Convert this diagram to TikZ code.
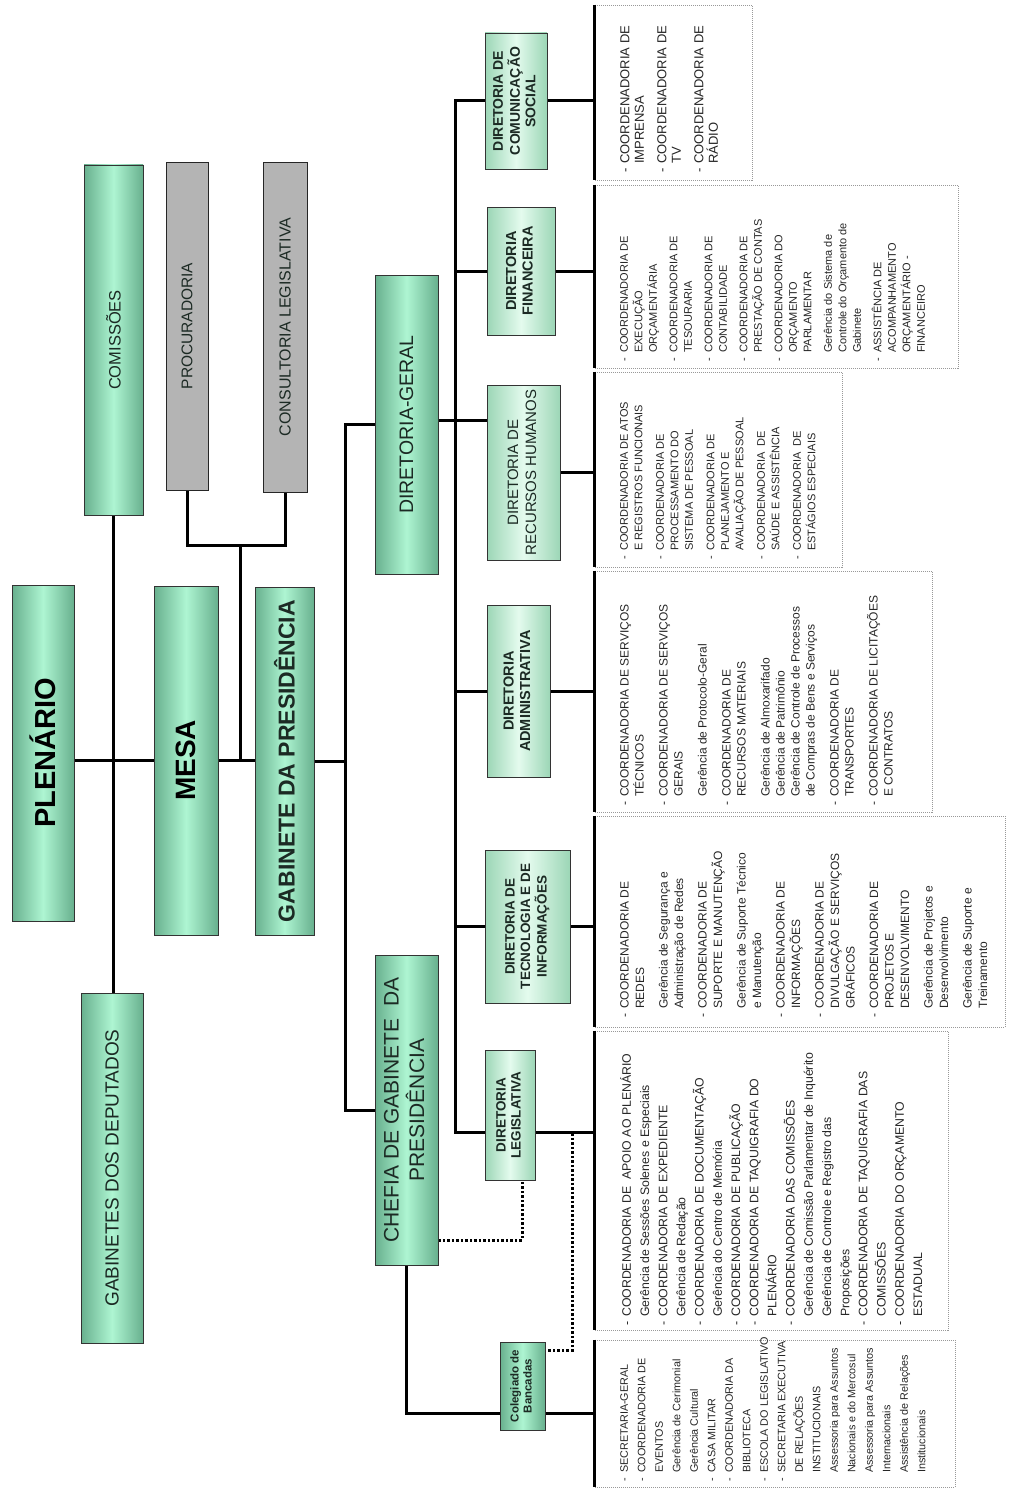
\documentclass[tikz,border=0pt]{standalone}
\usepackage{fontspec}
\setmainfont{Liberation Sans}
\usepackage{graphicx}
\definecolor{gedge}{HTML}{68B08E}
\definecolor{gmid}{HTML}{AEF5D2}
\definecolor{dedge}{HTML}{9CD6B6}
\definecolor{dmid}{HTML}{E4FBEE}
\definecolor{boxgray}{HTML}{B4B4B4}
\definecolor{labcol}{HTML}{1C2A24}
\newcommand\Lb[1]{\makebox[9pt][l]{-}#1}
\newcommand\Ls[1]{\hspace*{9pt}#1}
\newcommand\rotlab[1]{\rotatebox{90}{\begin{tabular}{@{}c@{}}#1\end{tabular}}}
\pgfdeclarelayer{background}
\pgfsetlayers{background,main}
\begin{document}
\begin{tikzpicture}[x=1pt,y=-1pt,
  mainbox/.style={draw=black!80, line width=0.9pt, left color=gedge, right color=gedge, middle color=gmid, inner sep=0pt, text=labcol},
  dirbox/.style={draw=black!80, line width=0.9pt, left color=dedge, right color=dedge, middle color=dmid, inner sep=0pt, text=labcol},
  graybox/.style={draw=black!85, line width=0.9pt, fill=boxgray, inner sep=0pt, text=labcol},
  conn/.style={line width=3pt, draw=black},
  dotconn/.style={line width=3pt, draw=black, dash pattern=on 2.5pt off 2pt},
  listbox/.style={draw=black!40, line width=0.8pt, dash pattern=on 1pt off 1pt, inner sep=0pt},
  listedge/.style={line width=3.6pt, draw=black},
  listtext/.style={rotate=90, anchor=north west, align=left, inner sep=0pt, text=black!85}]
\useasboundingbox (0,0) rectangle (1019,1490);

% ---------- main boxes ----------
\node[mainbox, minimum width=62pt, minimum height=336pt, font=\fontsize{29}{32}\selectfont\bfseries, text=black] (plen) at (43,753) {\rotatebox{90}{PLENÁRIO}};
\node[mainbox, minimum width=62pt, minimum height=350pt, font=\fontsize{19}{22}\selectfont] (gabdep) at (112,1168) {\rotatebox{90}{GABINETES DOS DEPUTADOS}};
\node[mainbox, minimum width=59pt, minimum height=350pt, font=\fontsize{16.5}{19}\selectfont] (comiss) at (113.5,340) {\rotatebox{90}{COMISSÕES}};
\node[mainbox, minimum width=64pt, minimum height=349pt, font=\fontsize{28}{31}\selectfont\bfseries, text=black] (mesa) at (186,760.5) {\rotatebox{90}{MESA}};
\node[graybox, minimum width=42pt, minimum height=328pt, font=\fontsize{15.5}{18}\selectfont] (procur) at (187,326) {\rotatebox{90}{PROCURADORIA}};
\node[graybox, minimum width=44pt, minimum height=330pt, font=\fontsize{16}{19}\selectfont] (consult) at (285,327) {\rotatebox{90}{CONSULTORIA LEGISLATIVA}};
\node[mainbox, minimum width=59pt, minimum height=348pt, font=\fontsize{23}{26}\selectfont\bfseries] (gabpres) at (284.5,761) {\rotatebox{90}{GABINETE DA PRESIDÊNCIA}};
\node[mainbox, minimum width=63pt, minimum height=299pt, font=\fontsize{19.5}{22}\selectfont] (dirger) at (406.5,424.5) {\rotatebox{90}{DIRETORIA-GERAL}};
\node[mainbox, minimum width=63pt, minimum height=310pt, font=\fontsize{21}{24}\selectfont] (chefia) at (406.5,1110) {\rotlab{CHEFIA DE GABINETE\ \ DA\\PRESIDÊNCIA}};

% ---------- diretorias ----------
\node[mainbox, minimum width=45pt, minimum height=88pt, font=\fontsize{11.5}{13}\selectfont\bfseries] (coleg) at (522.5,1386) {\rotlab{Colegiado de\\Bancadas}};
\node[dirbox, minimum width=50pt, minimum height=130pt, font=\fontsize{13.5}{15}\selectfont\bfseries] (dleg) at (510,1115) {\rotlab{DIRETORIA\\LEGISLATIVA}};
\node[dirbox, minimum width=85pt, minimum height=153pt, font=\fontsize{13.5}{15.5}\selectfont\bfseries] (dtec) at (527.5,926.5) {\rotlab{DIRETORIA DE\\TECNOLOGIA E DE\\INFORMAÇÕES}};
\node[dirbox, minimum width=63pt, minimum height=172pt, font=\fontsize{14.5}{16.5}\selectfont\bfseries] (dadm) at (518.5,691) {\rotlab{DIRETORIA\\ADMINISTRATIVA}};
\node[dirbox, minimum width=73pt, minimum height=175pt, font=\fontsize{15}{18}\selectfont] (drh) at (523.5,472.5) {\rotlab{DIRETORIA DE\\RECURSOS HUMANOS}};
\node[dirbox, minimum width=68pt, minimum height=128pt, font=\fontsize{14.5}{16.5}\selectfont\bfseries] (dfin) at (521,271) {\rotlab{DIRETORIA\\FINANCEIRA}};
\node[dirbox, minimum width=62pt, minimum height=136pt, font=\fontsize{14}{15.5}\selectfont\bfseries] (dcom) at (516,101) {\rotlab{DIRETORIA DE\\COMUNICAÇÃO\\SOCIAL}};

% ---------- list boxes ----------
\node[listbox, minimum width=157pt, minimum height=175pt] (lcom) at (673.5,92.5) {};
\node[listbox, minimum width=363pt, minimum height=183pt] (lfin) at (776.5,276.5) {};
\node[listbox, minimum width=247pt, minimum height=195pt] (lrh) at (718.5,469.5) {};
\node[listbox, minimum width=337pt, minimum height=241pt] (ladm) at (763.5,691.5) {};
\node[listbox, minimum width=410pt, minimum height=211pt] (ltec) at (800,921.5) {};
\node[listbox, minimum width=353pt, minimum height=299pt] (lleg) at (771.5,1180.5) {};
\node[listbox, minimum width=360pt, minimum height=147pt] (lchef) at (775,1413.5) {};
\foreach \b in {lcom,lfin,lrh,ladm,ltec,lleg,lchef}
  \draw[listedge] (\b.north west) -- (\b.south west);

% ---------- list texts ----------
\node[listtext, font=\fontsize{13}{14.5}\selectfont] (tcom) at (620,173) {%
\Lb{COORDENADORIA DE}\\ \Ls{IMPRENSA}\\[8pt]
\Lb{COORDENADORIA DE}\\ \Ls{TV}\\[8pt]
\Lb{COORDENADORIA DE}\\ \Ls{RÁDIO}};

\node[listtext, font=\fontsize{11}{14.5}\selectfont] (tfin) at (620,362) {%
\Lb{COORDENADORIA DE}\\ \Ls{EXECUÇÃO}\\ \Ls{ORÇAMENTÁRIA}\\[6pt]
\Lb{COORDENADORIA DE}\\ \Ls{TESOURARIA}\\[6pt]
\Lb{COORDENADORIA DE}\\ \Ls{CONTABILIDADE}\\[6pt]
\Lb{COORDENADORIA DE}\\ \Ls{PRESTAÇÃO DE CONTAS}\\[6pt]
\Lb{COORDENADORIA DO}\\ \Ls{ORÇAMENTO}\\ \Ls{PARLAMENTAR}\\[6pt]
\Ls{Gerência do Sistema de}\\ \Ls{Controle do Orçamento de}\\ \Ls{Gabinete}\\[6pt]
\Lb{ASSISTÊNCIA DE}\\ \Ls{ACOMPANHAMENTO}\\ \Ls{ORÇAMENTÁRIO -}\\ \Ls{FINANCEIRO}};

\node[listtext, font=\fontsize{11}{14.5}\selectfont] (trh) at (620,560) {%
\Lb{COORDENADORIA DE ATOS}\\ \Ls{E REGISTROS FUNCIONAIS}\\[7pt]
\Lb{COORDENADORIA DE}\\ \Ls{PROCESSAMENTO DO}\\ \Ls{SISTEMA DE PESSOAL}\\[7pt]
\Lb{COORDENADORIA DE}\\ \Ls{PLANEJAMENTO E}\\ \Ls{AVALIAÇÃO DE PESSOAL}\\[7pt]
\Lb{COORDENADORIA\ \ DE}\\ \Ls{SAÚDE E ASSISTÊNCIA}\\[7pt]
\Lb{COORDENADORIA\ \ DE}\\ \Ls{ESTÁGIOS ESPECIAIS}};

\node[listtext, font=\fontsize{12}{15}\selectfont] (tadm) at (620,806) {%
\Lb{COORDENADORIA DE SERVIÇOS}\\ \Ls{TÉCNICOS}\\[9pt]
\Lb{COORDENADORIA DE SERVIÇOS}\\ \Ls{GERAIS}\\[9pt]
\Ls{Gerência de Protocolo-Geral}\\[9pt]
\Lb{COORDENADORIA DE}\\ \Ls{RECURSOS MATERIAIS}\\[9pt]
\Ls{Gerência de Almoxarifado}\\ \Ls{Gerência de Patrimônio}\\ \Ls{Gerência de Controle de Processos}\\ \Ls{de Compras de Bens e Serviços}\\[9pt]
\Lb{COORDENADORIA DE}\\ \Ls{TRANSPORTES}\\[9pt]
\Lb{COORDENADORIA DE LICITAÇÕES}\\ \Ls{E CONTRATOS}};

\node[listtext, font=\fontsize{12}{15.5}\selectfont] (ttec) at (620,1018) {%
\Lb{COORDENADORIA DE}\\ \Ls{REDES}\\[8pt]
\Ls{Gerência de Segurança e}\\ \Ls{Administração de Redes}\\[8pt]
\Lb{COORDENADORIA DE}\\ \Ls{SUPORTE E MANUTENÇÃO}\\[8pt]
\Ls{Gerência de Suporte Técnico}\\ \Ls{e Manutenção}\\[8pt]
\Lb{COORDENADORIA DE}\\ \Ls{INFORMAÇÕES}\\[8pt]
\Lb{COORDENADORIA DE}\\ \Ls{DIVULGAÇÃO E SERVIÇOS}\\ \Ls{GRÁFICOS}\\[8pt]
\Lb{COORDENADORIA DE}\\ \Ls{PROJETOS E}\\ \Ls{DESENVOLVIMENTO}\\[8pt]
\Ls{Gerência de Projetos e}\\ \Ls{Desenvolvimento}\\[8pt]
\Ls{Gerência de Suporte e}\\ \Ls{Treinamento}};

\node[listtext, font=\fontsize{12.3}{18.2}\selectfont] (tleg) at (620,1326) {%
\Lb{COORDENADORIA DE\ \ APOIO AO PLENÁRIO}\\
\Ls{Gerência de Sessões Solenes e Especiais}\\
\Lb{COORDENADORIA DE EXPEDIENTE}\\
\Ls{Gerência de Redação}\\
\Lb{COORDENADORIA DE DOCUMENTAÇÃO}\\
\Ls{Gerência do Centro de Memória}\\
\Lb{COORDENADORIA DE PUBLICAÇÃO}\\
\Lb{COORDENADORIA DE TAQUIGRAFIA DO}\\
\Ls{PLENÁRIO}\\
\Lb{COORDENADORIA DAS COMISSÕES}\\
\Ls{Gerência de Comissão Parlamentar de Inquérito}\\
\Ls{Gerência de Controle e Registro das}\\
\Ls{Proposições}\\
\Lb{COORDENADORIA DE TAQUIGRAFIA DAS}\\
\Ls{COMISSÕES}\\
\Lb{COORDENADORIA DO ORÇAMENTO}\\
\Ls{ESTADUAL}};

\node[listtext, font=\fontsize{10.8}{17.5}\selectfont] (tchef) at (620,1482) {%
\Lb{SECRETARIA-GERAL}\\
\Lb{COORDENADORIA DE}\\
\Ls{EVENTOS}\\
\Ls{Gerência de Cerimonial}\\
\Ls{Gerência Cultural}\\
\Lb{CASA MILITAR}\\
\Lb{COORDENADORIA DA}\\
\Ls{BIBLIOTECA}\\
\Lb{ESCOLA DO LEGISLATIVO}\\
\Lb{SECRETARIA EXECUTIVA}\\
\Ls{DE RELAÇÕES}\\
\Ls{INSTITUCIONAIS}\\
\Ls{Assessoria para Assuntos}\\
\Ls{Nacionais e do Mercosul}\\
\Ls{Assessoria para Assuntos}\\
\Ls{Internacionais}\\
\Ls{Assistência de Relações}\\
\Ls{Institucionais}};

% ---------- connectors (behind the boxes) ----------
\begin{pgfonlayer}{background}
\fill[white] (0,0) rectangle (1019,1490);
\coordinate (pcj) at (240,545);
\coordinate (busA) at (345,761);
\coordinate (bcom) at (455,101);
\coordinate (bleg) at (455,1132);
\coordinate (dgj) at (455,420);

\draw[conn] (comiss.south) -- (comiss.south |- gabdep.north);
\draw[conn] (plen.east |- mesa.west) -- (mesa.west);
\draw[conn] (mesa.east) -- (mesa.east -| gabpres.west);
\draw[conn] (procur.south) |- (pcj) -| (consult.south);
\draw[conn] (pcj) -- (pcj |- mesa.east);
\draw[conn] (gabpres.east) -- (busA);
\draw[conn] (dirger.west) -| (busA) |- (chefia.west);

\draw[conn] (dcom.west) -- (bcom) -- (bleg) -- (bleg -| dleg.west);
\draw[conn] (dgj -| dirger.east) -- (dgj -| drh.west);
\draw[conn] (bcom |- dfin.west) -- (dfin.west);
\draw[conn] (bcom |- dadm.west) -- (dadm.west);
\draw[conn] (bcom |- dtec.west) -- (dtec.west);

\draw[conn] (dcom.east) -- (dcom.east -| lcom.west);
\draw[conn] (dfin.east) -- (dfin.east -| lfin.west);
\draw[conn] (drh.east) -- (drh.east -| lrh.west);
\draw[conn] (dadm.east) -- (dadm.east -| ladm.west);
\draw[conn] (dtec.east) -- (dtec.east -| ltec.west);
\draw[conn] (bleg -| dleg.east) -- (bleg -| lleg.west);
\draw[conn] (chefia.south) |- (lchef.west);

\coordinate (dA) at (522,1240);
\coordinate (dB) at (572,1133);
\coordinate (dC) at (572,1350);
\draw[dotconn] (dA -| chefia.east) -- (dA) -- (dA |- dleg.south);
\draw[dotconn] (dB) -- (dC) -- (dC -| coleg.east);
\end{pgfonlayer}
\end{tikzpicture}
\end{document}
